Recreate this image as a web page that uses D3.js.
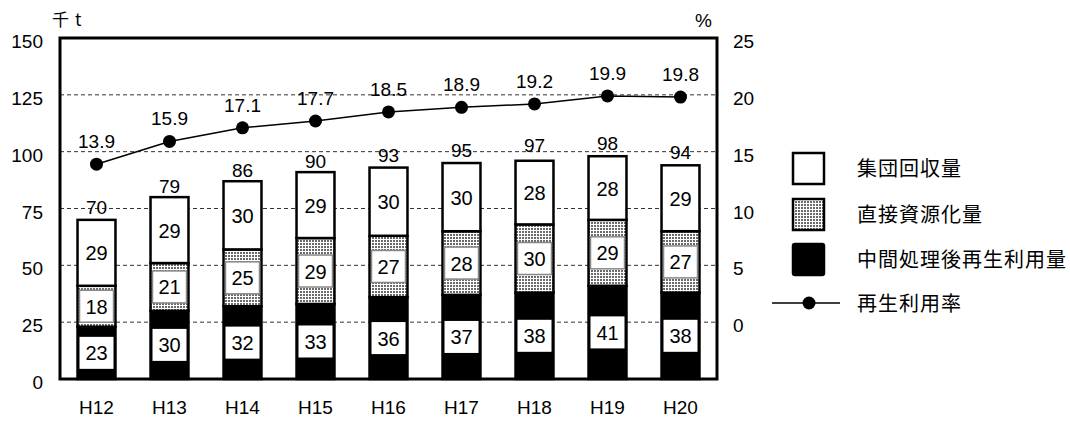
<!DOCTYPE html>
<html>
<head>
<meta charset="utf-8">
<script src="https://cdn.jsdelivr.net/npm/d3@7"></script>
<style>
  html, body { margin: 0; padding: 0; background: #fff; }
  svg { display: block; }
  text { font-family: "Liberation Sans", Arial, sans-serif; fill: #000; }
  .jp { font-family: "Noto Sans CJK JP", sans-serif; }
</style>
</head>
<body>
<svg id="chart" width="1070" height="421"></svg>
<script>
// Fiscal years (Heisei)
const years = ["H12", "H13", "H14", "H15", "H16", "H17", "H18", "H19", "H20"];
// 中間処理後再生利用量 (thousand t)
const intermediate = [23, 30, 32, 33, 36, 37, 38, 41, 38];
// 直接資源化量 (thousand t)
const direct = [18, 21, 25, 29, 27, 28, 30, 29, 27];
// 集団回収量 (thousand t)
const group = [29, 29, 30, 29, 30, 30, 28, 28, 29];
// Totals printed above each bar (thousand t)
const totals = [70, 79, 86, 90, 93, 95, 97, 98, 94];
// 再生利用率 (%)
const rate = [13.9, 15.9, 17.1, 17.7, 18.5, 18.9, 19.2, 19.9, 19.8];

const leftTicks = [0, 25, 50, 75, 100, 125, 150];
const rightTicks = [0, 5, 10, 15, 20, 25];
const legendLabels = ["集団回収量", "直接資源化量", "中間処理後再生利用量", "再生利用率"];

const svg = d3.select("#chart");
const plot = { left: 60, right: 717, top: 38, bottom: 379 };

const x = d3.scaleBand().domain(years)
  .range([plot.left, plot.right]).paddingInner(0.48).paddingOuter(0.24);
const y = d3.scaleLinear().domain([0, 150]).range([plot.bottom, plot.top]);
// Right axis shares gridlines: 0% sits on the 25 kt line, 25% on the 150 kt line
const yR = d3.scaleLinear().domain([-5, 25]).range([plot.bottom, plot.top]);

// Dotted screen fill for the direct-recycling segment
const defs = svg.append("defs");
const pat = defs.append("pattern").attr("id", "screen")
  .attr("width", 3).attr("height", 3).attr("patternUnits", "userSpaceOnUse");
pat.append("rect").attr("width", 3).attr("height", 3).attr("fill", "#fff");
pat.append("rect").attr("width", 2).attr("height", 2).attr("fill", "#6a6a6a");

// Dashed gridlines
svg.append("g").selectAll("line")
  .data(leftTicks.filter(d => d > 0 && d < 150))
  .join("line")
  .attr("x1", plot.left).attr("x2", plot.right)
  .attr("y1", d => y(d)).attr("y2", d => y(d))
  .attr("stroke", "#333").attr("stroke-width", 1)
  .attr("stroke-dasharray", "4,3");

// Stacked bars
const stackData = years.map((yr, i) => ({
  yr, intermediate: intermediate[i], direct: direct[i], group: group[i]
}));
const keys = ["intermediate", "direct", "group"];
const series = d3.stack().keys(keys)(stackData);
const fills = { intermediate: "#000", direct: "url(#screen)", group: "#fff" };

const bw = x.bandwidth();
const segG = svg.append("g");
series.forEach(s => {
  segG.append("g").selectAll("rect")
    .data(s)
    .join("rect")
    .attr("x", d => x(d.data.yr))
    .attr("y", d => y(d[1]))
    .attr("width", bw)
    .attr("height", d => y(d[0]) - y(d[1]))
    .attr("fill", fills[s.key])
    .attr("stroke", "#000")
    .attr("stroke-width", 2.5);
});

// Value labels inside segments
const boxW = 34, boxH = 32;
series.forEach(s => {
  const g = svg.append("g");
  s.forEach(d => {
    const cx = x(d.data.yr) + bw / 2;
    const cy = (y(d[0]) + y(d[1])) / 2;
    if (s.key !== "group") {
      g.append("rect")
        .attr("x", cx - boxW / 2).attr("y", cy - boxH / 2)
        .attr("width", boxW).attr("height", boxH)
        .attr("fill", "#fff")
        .attr("stroke", s.key === "direct" ? "#888" : "none")
        .attr("stroke-width", 1.5);
    }
    g.append("text")
      .attr("x", cx).attr("y", cy + 7.5)
      .attr("text-anchor", "middle")
      .style("font-size", "20px")
      .text(d.data[s.key]);
  });
});

// Totals above bars
svg.append("g").selectAll("text")
  .data(years)
  .join("text")
  .attr("x", d => x(d) + bw / 2)
  .attr("y", (d, i) => y(totals[i]) - 6)
  .attr("text-anchor", "middle")
  .style("font-size", "19px")
  .text((d, i) => totals[i]);

// Recycling rate line
const line = d3.line()
  .x((d, i) => x(years[i]) + bw / 2)
  .y(d => yR(d));
svg.append("path").datum(rate)
  .attr("d", line).attr("fill", "none")
  .attr("stroke", "#000").attr("stroke-width", 1.5);
svg.append("g").selectAll("circle")
  .data(rate)
  .join("circle")
  .attr("cx", (d, i) => x(years[i]) + bw / 2)
  .attr("cy", d => yR(d))
  .attr("r", 6.5).attr("fill", "#000");
svg.append("g").selectAll("text")
  .data(rate)
  .join("text")
  .attr("x", (d, i) => x(years[i]) + bw / 2)
  .attr("y", d => yR(d) - 16)
  .attr("text-anchor", "middle")
  .style("font-size", "19px")
  .text(d => d.toFixed(1));

// Frame
svg.append("rect")
  .attr("x", plot.left).attr("y", plot.top)
  .attr("width", plot.right - plot.left).attr("height", plot.bottom - plot.top)
  .attr("fill", "none").attr("stroke", "#000").attr("stroke-width", 3);

// Left axis
const leftAxis = svg.append("g")
  .attr("transform", `translate(${plot.left},0)`)
  .call(d3.axisLeft(y).tickValues(leftTicks).tickSize(0).tickPadding(17));
leftAxis.select(".domain").remove();
leftAxis.selectAll("text")
  .attr("dy", null).attr("y", 9.5)
  .style("font-size", "19px").style("font-family", "Liberation Sans, Arial, sans-serif")
  .attr("fill", "#000");

// Right axis
const rightAxis = svg.append("g")
  .attr("transform", `translate(${plot.right},0)`)
  .call(d3.axisRight(yR).tickValues(rightTicks).tickSize(0).tickPadding(16));
rightAxis.select(".domain").remove();
rightAxis.selectAll("text")
  .attr("dy", null).attr("y", 9.5)
  .style("font-size", "19px").style("font-family", "Liberation Sans, Arial, sans-serif")
  .attr("fill", "#000");

// Bottom axis
const bottomAxis = svg.append("g")
  .attr("transform", `translate(0,${plot.bottom})`)
  .call(d3.axisBottom(x).tickSize(0).tickPadding(0));
bottomAxis.select(".domain").remove();
bottomAxis.selectAll("text")
  .attr("dy", null).attr("y", 35)
  .style("font-size", "19px").style("font-family", "Liberation Sans, Arial, sans-serif")
  .attr("fill", "#000");

// Unit labels
svg.append("text").attr("class", "jp").attr("x", 52).attr("y", 26)
  .style("font-size", "17px").style("letter-spacing", "6px").text("千t");
svg.append("text").attr("x", 712).attr("y", 27)
  .attr("text-anchor", "end").style("font-size", "19px").text("%");

// Legend
const lg = svg.append("g");
const lx = 792, textX = 857;
const rowY = [152, 198, 243];
const swatch = [
  { fill: "#fff", rx: 0 },
  { fill: "url(#screen)", rx: 0 },
  { fill: "#000", rx: 2 }
];
swatch.forEach((s, i) => {
  lg.append("rect")
    .attr("x", lx + 1).attr("y", rowY[i] + 1)
    .attr("width", 31).attr("height", 31).attr("rx", s.rx)
    .attr("fill", s.fill).attr("stroke", "#000").attr("stroke-width", 2.5);
  lg.append("text").attr("class", "jp")
    .attr("x", textX).attr("y", rowY[i] + 24)
    .style("font-size", "20px").style("letter-spacing", "1px")
    .text(legendLabels[i]);
});
lg.append("line").attr("x1", 772).attr("x2", 840).attr("y1", 303).attr("y2", 303)
  .attr("stroke", "#000").attr("stroke-width", 1.5);
lg.append("circle").attr("cx", 809).attr("cy", 303).attr("r", 6.5).attr("fill", "#000");
lg.append("text").attr("class", "jp")
  .attr("x", textX).attr("y", 311)
  .style("font-size", "20px").style("letter-spacing", "1px")
  .text(legendLabels[3]);
</script>
</body>
</html>
